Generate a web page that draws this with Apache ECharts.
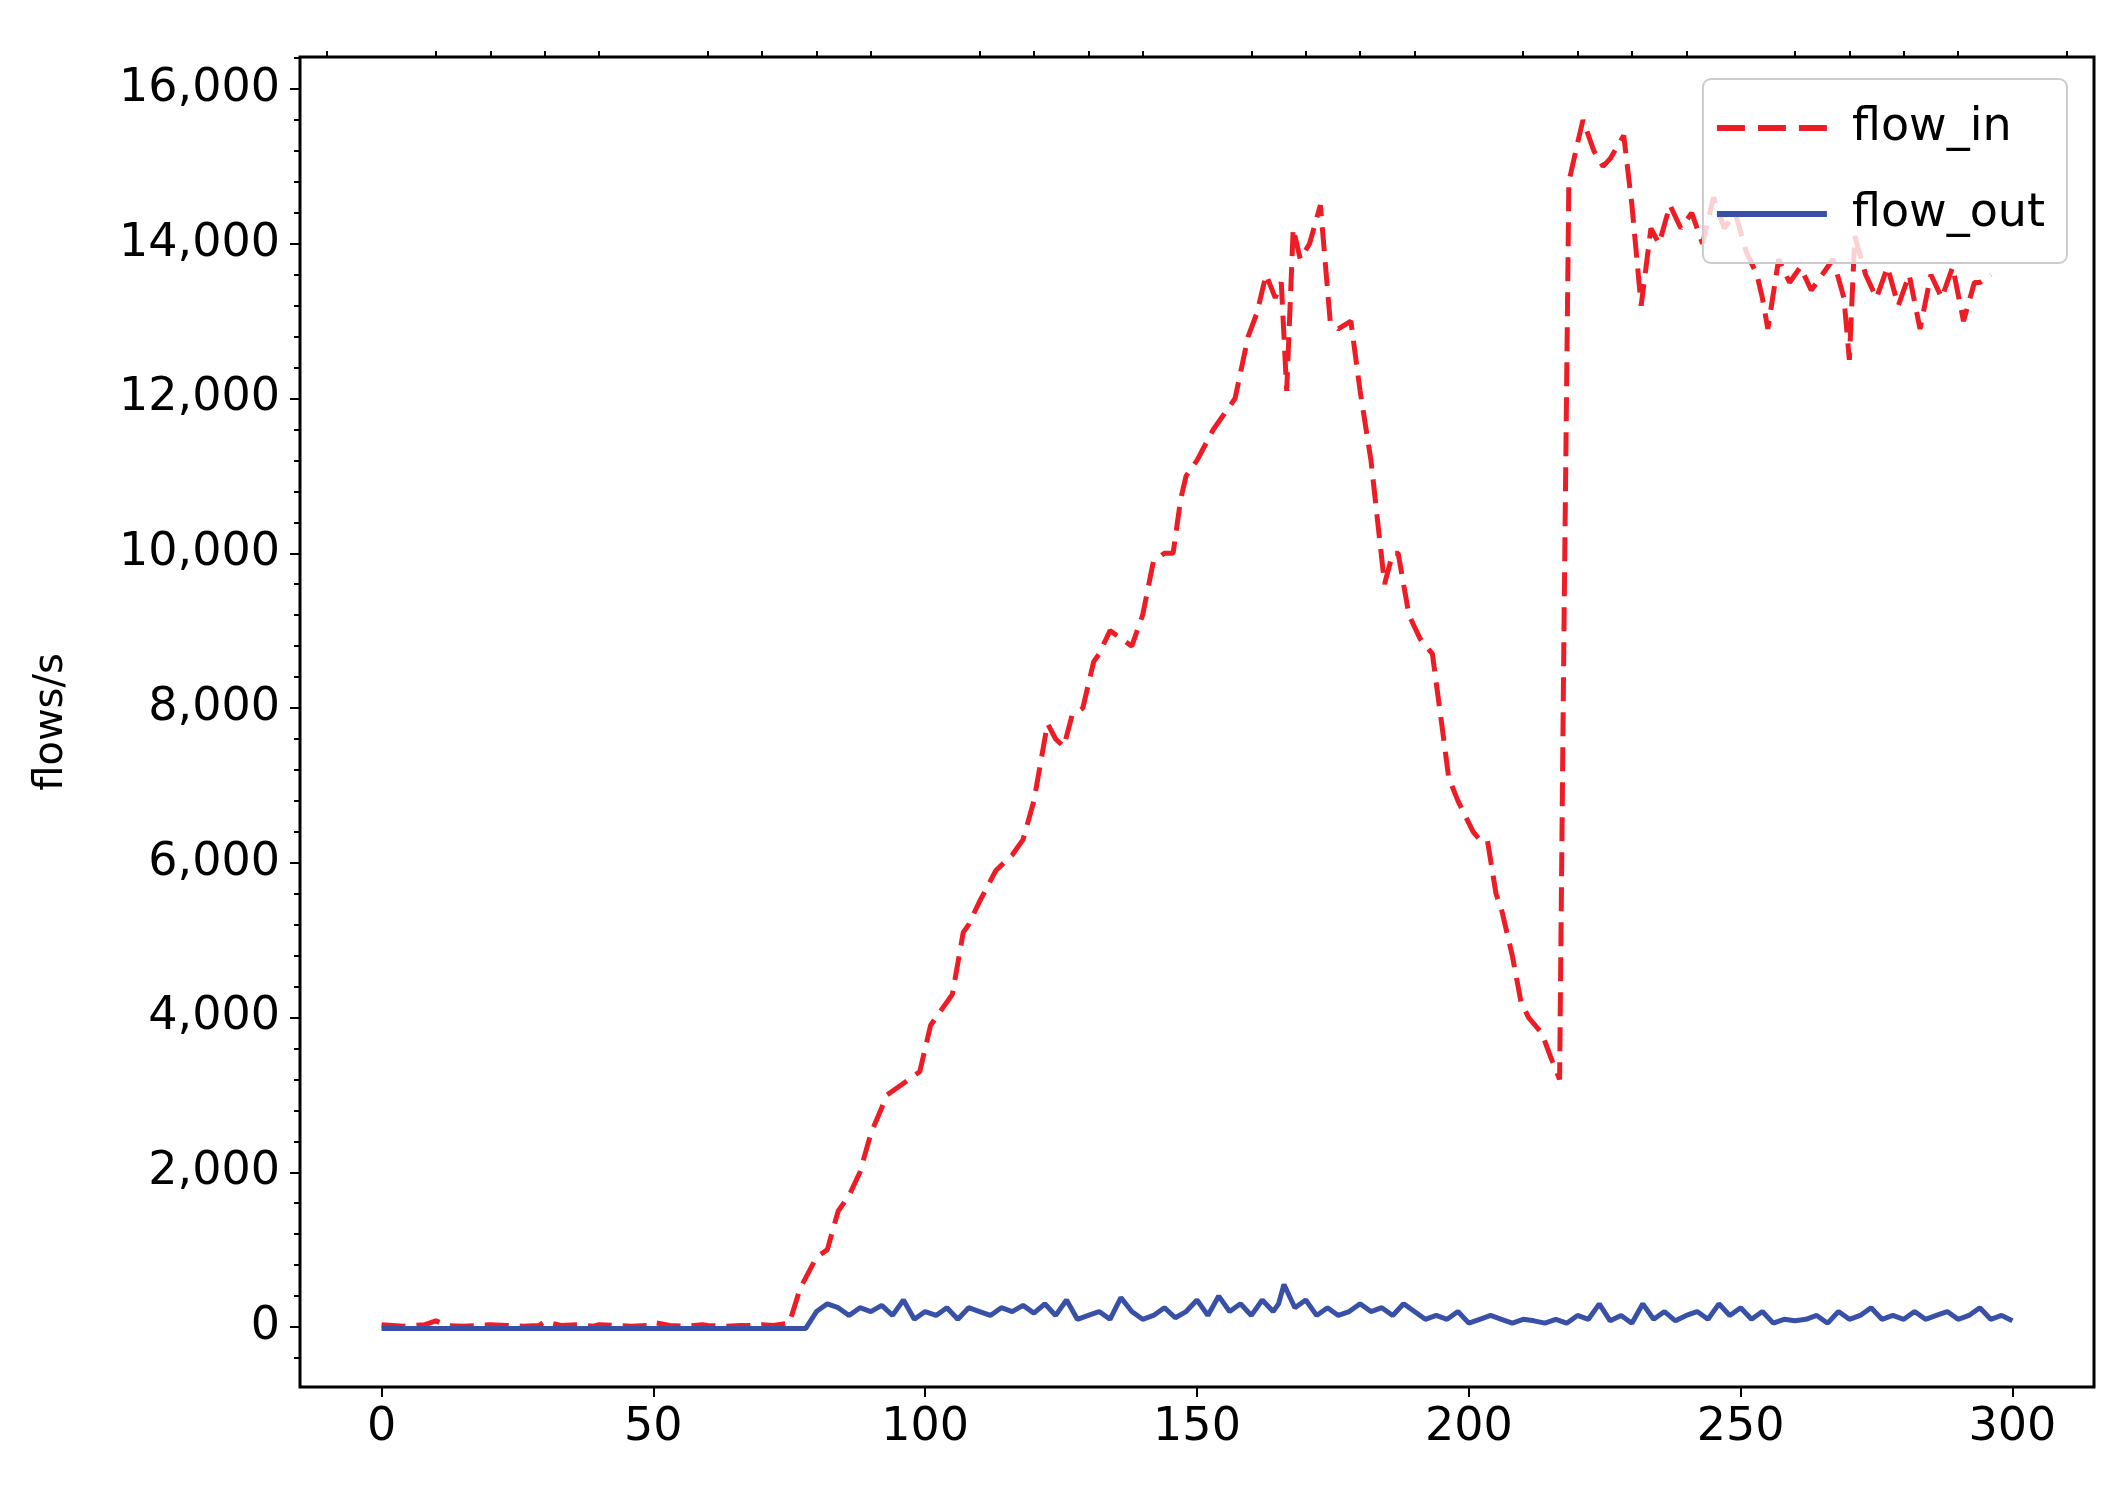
<!DOCTYPE html>
<html><head><meta charset="utf-8">
<script src="https://cdn.jsdelivr.net/npm/echarts@6/dist/echarts.min.js"></script>
<style>html,body{margin:0;padding:0;background:#fff}#c{width:2128px;height:1495px}</style>
</head><body><div id="c"></div>
<script>
const flowInX = [0,2,4,6,8,10,12,15,18,20,23,26,29,30,33,36,39,40,43,46,49,50,53,56,59,60,63,66,69,70,72,75,77,80,82,84,86,88,90,93,95,97,99,101,103,105,107,108,110,113,116,118,120,122.5,124,125.5,127,129,131,132,134,136,138,140,142,144,145.6,147,148,150,153,155,157,159.4,161,162.7,164.4,165.5,166.5,167.7,169,170.7,172.7,174.5,176,178.3,180,182,184.5,186,187,189,191,193.3,195,196.3,198,200.8,202,203.4,205,206,208,209.6,211,213.4,215,216.7,217.5,218.4,220,221,223,224.7,226,228.5,230,231.7,233.5,235,237,239,241,243,245,247,249,251,253,254,255,257,259,261,263,265,267,269,270,271,273,275,277,279,281,283,285,287,289,291,293,294,296];
const flowInY = [30,20,10,20,30,80,20,10,20,30,20,10,20,70,20,30,10,30,20,10,20,60,20,10,30,20,10,20,20,30,20,50,500,900,1000,1500,1700,2000,2500,3000,3100,3200,3300,3900,4100,4300,5100,5200,5500,5900,6100,6300,6800,7800,7600,7500,7900,8000,8600,8700,9000,8900,8800,9200,9900,10000,10000,10700,11000,11200,11600,11800,12000,12800,13100,13600,13300,13500,12100,14200,13800,14000,14500,13000,12900,13000,12100,11200,9600,10000,10000,9200,8900,8700,7800,7100,6800,6400,6300,6300,5600,5400,4800,4200,4000,3800,3500,3200,9000,14800,15300,15600,15200,15000,15100,15400,14500,13200,14200,14000,14500,14200,14400,14000,14600,14200,14400,13900,13600,13300,12900,13800,13500,13700,13400,13600,13800,13300,12500,14100,13600,13300,13700,13200,13600,12900,13600,13300,13700,13000,13500,13500,13600,13900,12900,12600];
const flowOutX = [0,10,20,30,40,50,60,70,78,80,82,84,86,88,90,92,94,96,98,100,102,104,106,108,110,112,114,116,118,120,122,124,126,128,130,132,134,136,138,140,142,144,146,148,150,152,154,156,158,160,162,164,165,166,168,170,172,174,176,178,180,182,184,186,188,190,192,194,196,198,200,202,204,206,208,210,212,214,216,218,220,222,224,226,228,230,232,234,236,238,240,242,244,246,248,250,252,254,256,258,260,262,264,266,268,270,272,274,276,278,280,282,284,286,288,290,292,294,296,298,300];
const flowOutY = [-20,-20,-20,-20,-20,-20,-20,-20,-20,200,300,250,150,250,200,280,150,350,100,200,150,250,100,250,200,150,250,200,280,180,300,150,350,100,150,200,100,380,200,100,150,250,120,200,350,150,400,200,300,150,350,200,300,550,250,350,150,250,150,200,300,200,250,150,300,200,100,150,100,200,50,100,150,100,50,100,80,50,100,50,150,100,300,80,150,50,300,100,200,80,150,200,100,300,150,250,100,200,50,100,80,100,150,50,200,100,150,250,100,150,100,200,100,150,200,100,150,250,100,150,80];
const xMajor = [0,50,100,150,200,250,300];
const xMinor = [-10,10,20,30,40,60,70,80,90,110,120,130,140,160,170,180,190,210,220,230,240,260,270,280,290,310];
const yMajor = [0,2000,4000,6000,8000,10000,12000,14000,16000];
const yMinor = [-400,400,800,1200,1600,2400,2800,3200,3600,4400,4800,5200,5600,6400,6800,7200,7600,8400,8800,9200,9600,10400,10800,11200,11600,12400,12800,13200,13600,14400,14800,15200,15600,16400].filter(v=>v<16414);
const zip = (a,b)=>a.map((x,i)=>[x,b[i]]);
const chart = echarts.init(document.getElementById('c'));
const F = 'DejaVu Sans';
const XR = {min:-15,max:315}, YR = {min:-775,max:16414};
const tick = (vals,len)=>({show:true,length:len,customValues:vals,lineStyle:{color:'#000',width:2}});
const lbl = {fontFamily:F,fontSize:46,color:'#000'};
chart.setOption({
  animation:false,
  grid:{left:300,right:34,top:57,bottom:108,show:true,borderColor:'#000',borderWidth:3,backgroundColor:'transparent'},
  legend:{right:61,top:79,orient:'vertical',itemWidth:110,itemHeight:6,itemGap:40,
    padding:[26,22,26,14],borderColor:'#ccc',borderWidth:2,borderRadius:8,backgroundColor:'rgba(255,255,255,0.8)',
    textStyle:{fontFamily:F,fontSize:46,color:'#000',padding:[0,0,0,20]},
    data:[{name:'flow_in',icon:'path://M0,0H28V6H0Z M41,0H69V6H41Z M82,0H110V6H82Z'},{name:'flow_out',icon:'rect'}]},
  xAxis:[
    Object.assign({type:'value',axisLine:{show:false,onZero:false},splitLine:{show:false},
      axisTick:tick(xMajor,10),axisLabel:Object.assign({margin:18,customValues:xMajor},lbl)},XR),
    Object.assign({type:'value',axisLine:{show:false,onZero:false},splitLine:{show:false},
      axisTick:tick(xMinor,6),axisLabel:{show:false}},XR)],
  yAxis:[
    Object.assign({type:'value',name:'flows/s',nameLocation:'middle',nameGap:228,nameTextStyle:{fontFamily:F,fontSize:40,color:'#000'},
      axisLine:{show:false,onZero:false},splitLine:{show:false},
      axisTick:tick(yMajor,10),axisLabel:Object.assign({margin:20,customValues:yMajor},lbl)},YR),
    Object.assign({type:'value',position:'left',axisLine:{show:false,onZero:false},splitLine:{show:false},
      axisTick:tick(yMinor,6),axisLabel:{show:false}},YR)],
  series:[
    {name:'flow_in',type:'line',data:zip(flowInX,flowInY),showSymbol:false,color:'#ee1c25',
      lineStyle:{color:'#ee1c25',width:5,type:[24,11]}},
    {name:'flow_out',type:'line',data:zip(flowOutX,flowOutY),showSymbol:false,color:'#3850a8',
      lineStyle:{color:'#3850a8',width:5}}
  ]
});
</script></body></html>
